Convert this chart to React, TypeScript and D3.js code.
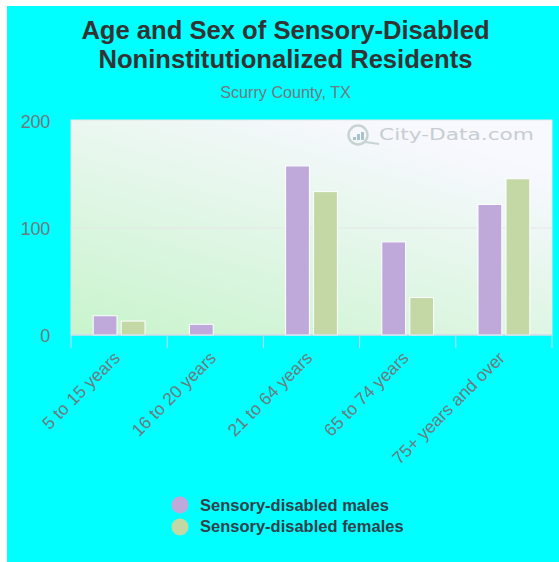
import React from "react";
import * as d3 from "d3";

const ageGroups = ["5 to 15 years", "16 to 20 years", "21 to 64 years", "65 to 74 years", "75+ years and over"];
const seriesNames = ["Sensory-disabled males", "Sensory-disabled females"];
const seriesColors = ["#bea9da", "#c4d8a6"];
const maleCounts = [18, 10, 158, 87, 122];
const femaleCounts = [13, 0, 134, 35, 146];
const yTicks = [0, 100, 200];

const FONT = "'Liberation Sans', Arial, sans-serif";

export default function App() {
  const width = 559;
  const height = 562;
  const plot = { left: 71, right: 552, top: 120, bottom: 335 };

  const x = d3.scaleBand<string>().domain(ageGroups).range([plot.left, plot.right]);
  const inner = d3
    .scaleBand<string>()
    .domain(seriesNames)
    .range([0, x.bandwidth()])
    .paddingInner(0.15)
    .paddingOuter(0.793);
  const y = d3.scaleLinear().domain([0, 200]).range([plot.bottom, 121]);
  const series = [maleCounts, femaleCounts];
  const tickEdges = [...ageGroups.map((g) => x(g) as number), plot.right];

  return (
    <svg
      width={width}
      height={height}
      viewBox={`0 0 ${width} ${height}`}
      style={{ position: "absolute", left: 0, top: 0, display: "block" }}
      fontFamily={FONT}
    >
      <defs>
        <linearGradient id="plotFill" gradientUnits="userSpaceOnUse" x1={71} y1={335} x2={152} y2={55}>
          <stop offset="0" stopColor="#c8f4cc" />
          <stop offset="1" stopColor="#f8f8ff" />
        </linearGradient>
      </defs>
      <rect width={width} height={height} fill="#fff" />
      <rect x={7} y={6} width={width - 7} height={height - 6} fill="#00ffff" />

      <text textAnchor="middle" fontSize={25.6} fontWeight="bold" fill="#333">
        <tspan x={285.5} y={39}>Age and Sex of Sensory-Disabled</tspan>
        <tspan x={285.5} y={68}>Noninstitutionalized Residents</tspan>
      </text>
      <text x={285.5} y={98} textAnchor="middle" fontSize={16.2} fill="#6f7a80">
        Scurry County, TX
      </text>

      <rect
        x={plot.left}
        y={plot.top}
        width={plot.right - plot.left}
        height={plot.bottom - plot.top}
        fill="url(#plotFill)"
        stroke="#e6e6e6"
        strokeWidth={1}
      />
      <line x1={plot.left} x2={plot.right} y1={y(100)} y2={y(100)} stroke="#e6e6e6" strokeWidth={1} />

      {/* Watermark */}
      <g>
        <circle cx={358} cy={135} r={9.5} fill="none" stroke="#c8d4d4" strokeWidth={2.5} />
        <line x1={365} y1={142} x2={379} y2={144} stroke="#c8d4d4" strokeWidth={2} />
        {[3, 6, 8].map((h, i) => (
          <rect key={i} x={353 + i * 4} y={140 - h} width={3} height={h} fill="#a9c3cc" />
        ))}
        <text
          x={379}
          y={140}
          fontFamily="'DejaVu Sans', sans-serif"
          fontSize={15}
          textLength={155}
          lengthAdjust="spacingAndGlyphs"
          fill="#c6ced2"
        >
          City-Data.com
        </text>
      </g>

      {ageGroups.map((g, gi) =>
        seriesNames.map((s, si) => {
          const v = series[si][gi];
          if (!v) return null;
          return (
            <rect
              key={s + g}
              x={(x(g) as number) + (inner(s) as number)}
              y={y(v)}
              width={inner.bandwidth()}
              height={y(0) - y(v)}
              fill={seriesColors[si]}
              stroke="#fff"
              strokeWidth={1}
            />
          );
        })
      )}

      <line x1={plot.left} x2={plot.right} y1={plot.bottom} y2={plot.bottom} stroke="#ccd6eb" strokeWidth={1} />
      {tickEdges.map((t) => (
        <line key={t} x1={t} x2={t} y1={plot.bottom} y2={plot.bottom + 13} stroke="#ccd6eb" strokeWidth={1} />
      ))}

      {yTicks.map((t) => (
        <text key={t} x={50} y={y(t) + 6.5} textAnchor="end" fontSize={18} fill="#6f7a80" letterSpacing={-0.3}>
          {t}
        </text>
      ))}

      {ageGroups.map((g) => {
        const cx = (x(g) as number) + x.bandwidth() / 2 + 2;
        return (
          <text
            key={g}
            transform={`translate(${cx},${plot.bottom + 24}) rotate(-45)`}
            textAnchor="end"
            fontSize={17.5}
            fill="#6f7a80"
          >
            {g}
          </text>
        );
      })}

      {seriesNames.map((s, i) => (
        <g key={s}>
          <circle cx={180} cy={505 + i * 22} r={8.5} fill={seriesColors[i]} />
          <text x={200} y={511 + i * 21} fontSize={16.5} fontWeight="bold" fill="#333f4a">
            {s}
          </text>
        </g>
      ))}
    </svg>
  );
}
